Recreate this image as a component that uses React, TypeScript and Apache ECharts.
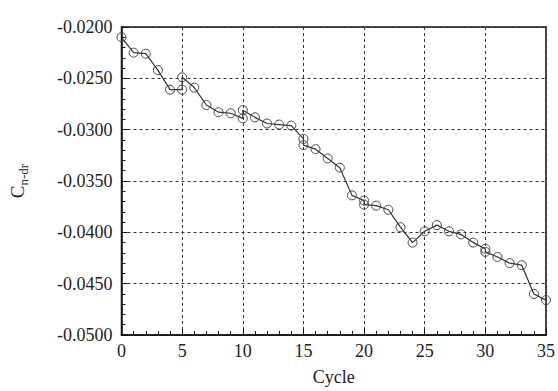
import React, { useEffect, useRef } from "react";
import * as echarts from "echarts";

const cycles: number[] = [0, 1, 2, 3, 4, 5, 5, 6, 7, 8, 9, 10, 10, 11, 12, 13, 14, 15, 15, 16, 17, 18, 19, 20, 20, 21, 22, 23, 24, 25, 26, 27, 28, 29, 30, 30, 31, 32, 33, 34, 35];
const cnValues: number[] = [-0.0210, -0.0225, -0.0226, -0.0242, -0.0261, -0.0261, -0.0249, -0.0259, -0.0276, -0.0283, -0.0284, -0.0289, -0.0281, -0.0288, -0.0294, -0.0295, -0.0296, -0.0309, -0.0315, -0.0319, -0.0328, -0.0337, -0.0364, -0.0369, -0.0373, -0.0374, -0.0378, -0.0395, -0.0410, -0.0399, -0.0393, -0.0399, -0.0402, -0.0410, -0.0416, -0.0419, -0.0424, -0.0430, -0.0432, -0.0460, -0.0466];

const xTicks = { min: 0, max: 35, interval: 5 };
const yTicks = { min: -0.05, max: -0.02, interval: 0.005 };

export default function App() {
  const ref = useRef<HTMLDivElement>(null);
  useEffect(() => {
    if (!ref.current) return;
    const chart = echarts.init(ref.current, undefined, { renderer: "svg" });
    const font = "Liberation Serif";
    const gridLine = { show: true, lineStyle: { color: "#333", type: [3, 3] as any, width: 1 } };
    chart.setOption({
      animation: false,
      backgroundColor: "#fff",
      textStyle: { fontFamily: font, color: "#222" },
      grid: { left: 110, right: 7, top: 27, bottom: 52, show: true, borderColor: "#111", borderWidth: 1.5, backgroundColor: "transparent" },
      xAxis: {
        type: "value",
        min: xTicks.min,
        max: xTicks.max,
        interval: xTicks.interval,
        name: "Cycle",
        nameLocation: "middle",
        nameGap: 33,
        nameTextStyle: { fontFamily: font, fontSize: 18, color: "#222" },
        axisLine: { lineStyle: { color: "#111", width: 1.5 } },
        axisTick: { inside: true, length: 6, lineStyle: { color: "#111" } },
        minorTick: { show: true, splitNumber: 5, length: 4, lineStyle: { color: "#111" } },
        axisLabel: { fontFamily: font, fontSize: 18, color: "#222", margin: 7 },
        splitLine: gridLine,
      },
      yAxis: {
        type: "value",
        min: yTicks.min,
        max: yTicks.max,
        interval: yTicks.interval,
        name: "{c|C}{s|n-dr}",
        nameLocation: "middle",
        nameGap: 92,
        nameTextStyle: {
          fontFamily: font,
          color: "#222",
          rich: {
            c: { fontFamily: font, fontSize: 19, color: "#222", lineHeight: 24, verticalAlign: "middle" },
            s: { fontFamily: font, fontSize: 13, color: "#222", lineHeight: 24, verticalAlign: "bottom", padding: [8, 0, 0, 0] },
          },
        },
        axisLine: { lineStyle: { color: "#111", width: 1.5 } },
        axisTick: { inside: true, length: 6, lineStyle: { color: "#111" } },
        minorTick: { show: true, splitNumber: 5, length: 4, lineStyle: { color: "#111" } },
        axisLabel: { fontFamily: font, fontSize: 18, color: "#222", margin: 9, formatter: (v: number) => v.toFixed(4) },
        splitLine: gridLine,
      },
      series: [
        {
          type: "line",
          data: cycles.map((c, i) => [c, cnValues[i]]),
          symbol: "circle",
          symbolSize: 9,
          showSymbol: true,
          itemStyle: { color: "rgba(255,255,255,0)", borderColor: "#444", borderWidth: 1 },
          lineStyle: { color: "#333", width: 1.2 },
        },
      ],
    });
    return () => chart.dispose();
  }, []);
  return <div ref={ref} style={{ position: "absolute", left: 0, top: 0, width: 558, height: 391 }} />;
}
